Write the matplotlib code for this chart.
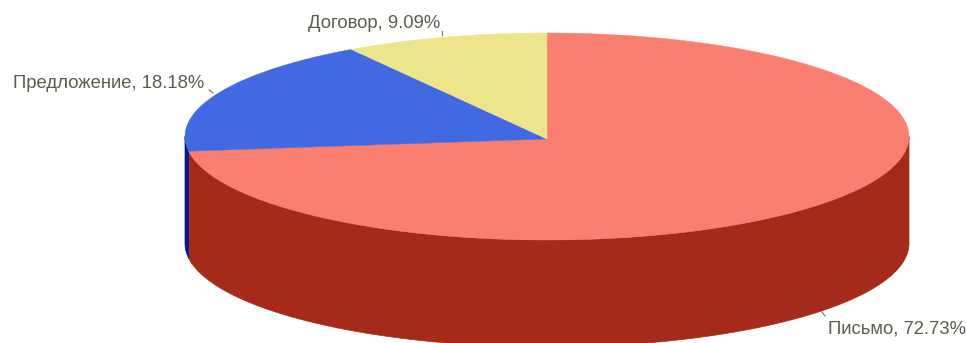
import numpy as np
import matplotlib
matplotlib.use("Agg")
import matplotlib.pyplot as plt
from matplotlib.patches import Polygon

plt.rcParams['font.family'] = ['Liberation Sans', 'DejaVu Sans']

labels = ['Письмо', 'Предложение', 'Договор']
values = [72.73, 18.18, 9.09]
top_colors = ['#FA7F70', '#4169E1', '#EEE48C']
side_colors = ['#A52A1A', '#06188C', '#B0A860']

W, H = 966, 343
fig = plt.figure(figsize=(W / 100, H / 100), dpi=100, facecolor='white')
ax = fig.add_axes([0, 0, 1, 1])
ax.set_xlim(0, W)
ax.set_ylim(H, 0)
ax.axis('off')

cx, cy, rx, ry, depth = 547, 136.5, 362, 103.5, 107
tip_y = 139

def pt(theta):
    # theta: clockwise from 12 o'clock, in radians
    return cx + rx * np.sin(theta), cy - ry * np.cos(theta)

cum = np.cumsum([0] + values) / sum(values) * 2 * np.pi

# side walls, visible lower half only (theta from pi/2 to 3pi/2)
for i in range(len(values)):
    a, b = max(cum[i], np.pi / 2), min(cum[i + 1], 3 * np.pi / 2)
    if b > a:
        t = np.linspace(a, b, 200)
        x, y = pt(t)
        poly = np.vstack([np.c_[x, y], np.c_[x[::-1], y[::-1] + depth]])
        ax.add_patch(Polygon(poly, closed=True, fc=side_colors[i], ec=side_colors[i], lw=0.5, zorder=2))

# top faces
for i in range(len(values)):
    t = np.linspace(cum[i], cum[i + 1], 300)
    x, y = pt(t)
    poly = np.vstack([[cx, tip_y], np.c_[x, y]])
    ax.add_patch(Polygon(poly, closed=True, fc=top_colors[i], ec=top_colors[i], lw=0.3, zorder=3))

# labels with small leader lines
txt = dict(fontsize=13.3, color='#5E5A4C', zorder=5)
ax.text(966, 329, f'{labels[0]}, {values[0]:.2f}%', ha='right', va='center', **txt)
ax.text(204, 83, f'{labels[1]}, {values[1]:.2f}%', ha='right', va='center', **txt)
ax.text(440, 24, f'{labels[2]}, {values[2]:.2f}%', ha='right', va='center', **txt)
for xs, ys in [((822, 825), (312, 316)), ((209, 213), (90, 93)), ((442, 442), (31, 35))]:
    ax.plot(xs, ys, color='#777755', lw=0.8, zorder=4)

fig.savefig('out.png', dpi=100)
